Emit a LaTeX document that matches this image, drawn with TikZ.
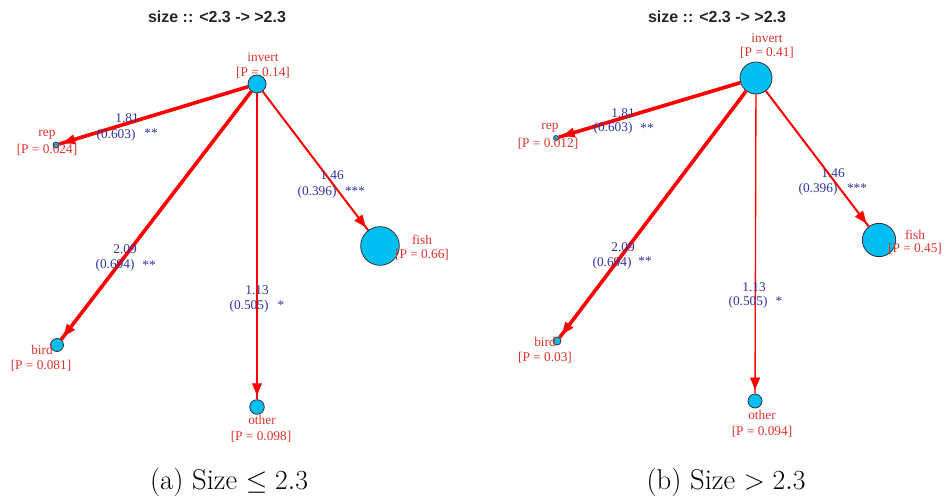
\documentclass[tikz,border=0pt]{standalone}
\usepackage{fontspec}
\newfontfamily\lserif{Liberation Serif}
\newfontfamily\lsans{Liberation Sans}
\usetikzlibrary{arrows.meta,decorations.markings}
\definecolor{nodecyan}{RGB}{0,190,240}
\definecolor{labred}{RGB}{222,50,45}
\definecolor{edgeblue}{RGB}{50,50,160}
\definecolor{edgered}{RGB}{255,0,0}
\tikzset{
  vtx/.style={circle,draw=black!80,line width=0.6pt,fill=nodecyan,inner sep=0pt,minimum size=#1},
  nlab/.style={text=labred,font=\lserif\fontsize{10}{12}\selectfont,inner sep=0pt},
  elab/.style={text=edgeblue,font=\lserif\fontsize{10}{12}\selectfont,inner sep=0pt},
  ttl/.style={font=\lsans\bfseries\fontsize{12}{14}\selectfont,text=black!85,inner sep=0pt},
  capt/.style={font=\fontsize{21.5}{26}\selectfont,inner sep=0pt},
  conn/.style={draw=edgered,fill=edgered,color=edgered,line width=#1,postaction={decorate},
    decoration={markings,mark=at position -3pt with {\arrow[edgered]{Triangle[length=9pt,width=7.5pt,line width=0.1pt]}}}},
}
\begin{document}
\begin{tikzpicture}[x=0.75pt,y=-0.75pt]
\path[use as bounding box] (0,0) rectangle (944,502);

% ---------------- panel (a)
\node[ttl] (ta) at (217,17) {size :: <2.3 -> >2.3};
\node[vtx=13.5pt] (ainv) at (257,84) {};
\node[vtx=4.5pt] (arep) at (56,145) {};
\node[vtx=29pt] (afish) at (380,246) {};
\node[vtx=9.75pt] (abird) at (57,345) {};
\node[vtx=11pt] (aother) at (257,407) {};

\draw[conn=2.7pt] (ainv) -- (arep);
\draw[conn=2.7pt] (ainv) -- (abird);
\draw[conn=1.5pt] (ainv) -- (afish);
\draw[conn=1pt] (ainv) -- (aother);

\node[nlab] (ainvl1) at (263,57) {invert};
\node[nlab] (ainvl2) at (263,73) {[P = 0.14]};
\node[nlab] (arepl1) at (47,135) {rep};
\node[nlab] (arepl2) at (47,150) {[P = 0.024]};
\node[nlab] (afishl1) at (422,240) {fish};
\node[nlab] (afishl2) at (422,255) {[P = 0.66]};
\node[nlab] (abirdl1) at (42,350) {bird};
\node[nlab] (abirdl2) at (41,366) {[P = 0.081]};
\node[nlab] (aotherl1) at (262,420) {other};
\node[nlab] (aotherl2) at (261,437) {[P = 0.098]};

\node[elab] (ae1a) at (127,118) {1.81};
\node[elab] (ae1b) at (116,135) {(0.603)};
\node[elab] (ae1c) at (151,133) {**};
\node[elab] (ae2a) at (332,175) {1.46};
\node[elab] (ae2b) at (317,192) {(0.396)};
\node[elab] (ae2c) at (355,191) {***};
\node[elab] (ae3a) at (125,249) {2.09};
\node[elab] (ae3b) at (115,265) {(0.694)};
\node[elab] (ae3c) at (149,265) {**};
\node[elab] (ae4a) at (257,290) {1.13};
\node[elab] (ae4b) at (249,306) {(0.505)};
\node[elab] (ae4c) at (281,305) {*};

\node[capt] (capa) at (229,482) {(a) Size $\leq 2.3$};

% ---------------- panel (b)
\node[ttl] (tb) at (717,17) {size :: <2.3 -> >2.3};
\node[vtx=24pt] (binv) at (756,78) {};
\node[vtx=3.75pt] (brep) at (556,138) {};
\node[vtx=25pt] (bfish) at (879,240) {};
\node[vtx=6pt] (bbird) at (557,341) {};
\node[vtx=10.5pt] (bother) at (755,401) {};

\draw[conn=2.7pt] (binv) -- (brep);
\draw[conn=2.7pt] (binv) -- (bbird);
\draw[conn=1.5pt] (binv) -- (bfish);
\draw[conn=1pt] (binv) -- (bother);

\node[nlab] (binvl1) at (767,38) {invert};
\node[nlab] (binvl2) at (767,53) {[P = 0.41]};
\node[nlab] (brepl1) at (550,128) {rep};
\node[nlab] (brepl2) at (548,144) {[P = 0.012]};
\node[nlab] (bfishl1) at (915,235) {fish};
\node[nlab] (bfishl2) at (915,249) {[P = 0.45]};
\node[nlab] (bbirdl1) at (545,342) {bird};
\node[nlab] (bbirdl2) at (545,358) {[P = 0.03]};
\node[nlab] (botherl1) at (762,415) {other};
\node[nlab] (botherl2) at (762,432) {[P = 0.094]};

\node[elab] (be1a) at (623,113) {1.81};
\node[elab] (be1b) at (613,128) {(0.603)};
\node[elab] (be1c) at (647,128) {**};
\node[elab] (be2a) at (833,173) {1.46};
\node[elab] (be2b) at (818,189) {(0.396)};
\node[elab] (be2c) at (857,188) {***};
\node[elab] (be3a) at (623,247) {2.09};
\node[elab] (be3b) at (612,263) {(0.694)};
\node[elab] (be3c) at (645,261) {**};
\node[elab] (be4a) at (754,287) {1.13};
\node[elab] (be4b) at (748,302) {(0.505)};
\node[elab] (be4c) at (779,301) {*};

\node[capt] (capb) at (726,482) {(b) Size $> 2.3$};
\end{tikzpicture}
\end{document}
